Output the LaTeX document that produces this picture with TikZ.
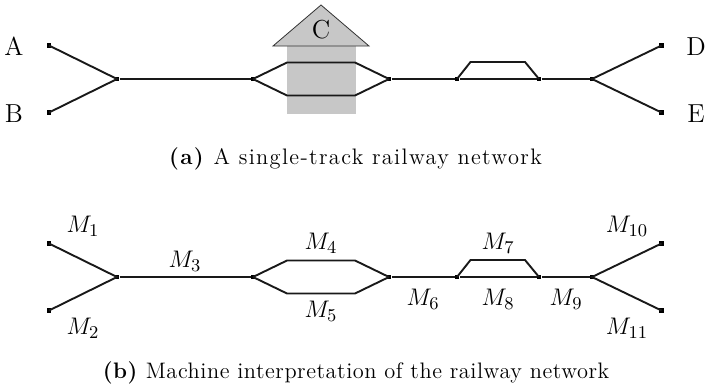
\documentclass[tikz,border=0pt]{standalone}
\usepackage{amsmath, amssymb}
\usepackage{fontspec}
\usetikzlibrary{calc}
\definecolor{station}{gray}{0.78}
\newfontfamily\capafont{Latin Modern Roman}[LetterSpace=6]
\newfontfamily\capbfont{Latin Modern Roman}[LetterSpace=2.4]
\tikzset{
  >=latex,
  track/.style={draw=black!90, line width=0.95pt},
  joint/.style={fill=black, inner sep=0pt, minimum size=2.1pt, rectangle},
  lab/.style={font=\fontsize{13}{15}\selectfont, inner sep=0pt},
  mlab/.style={font=\fontsize{13}{15}\selectfont, inner sep=0pt},
  captext/.style={font=\fontsize{11.2}{13}\selectfont, inner sep=0pt},
  area/.style={fill=station},
}
\begin{document}
\begin{tikzpicture}[x=0.5pt,y=-0.5pt]
\useasboundingbox (0,0) rectangle (705,391);
% station area, behind the tracks
\fill[area] (287,46) rectangle (356,114);
\filldraw[area, draw=black!80, line width=0.4pt] (273,46) -- (321,5) -- (369,46) -- cycle;
% both networks share one layout
\foreach \n/\y in {t/79,b/277}{
  \node[joint] (\n a) at (49,\y-33.5) {};
  \node[joint] (\n b) at (49,\y+33.5) {};
  \node[joint] (\n j1) at (117,\y) {};
  \node[joint] (\n j2) at (253,\y) {};
  \node[joint] (\n j3) at (389,\y) {};
  \node[joint] (\n j4) at (457,\y) {};
  \node[joint] (\n j5) at (539,\y) {};
  \node[joint] (\n j6) at (592,\y) {};
  \node[joint] (\n d) at (661.5,\y-33.5) {};
  \node[joint] (\n e) at (661.5,\y+33.5) {};
  \draw[track] (\n a.center) -- (\n j1.center) -- (\n b.center);
  \draw[track] (\n j1) -- (\n j2);
  \draw[track] (\n j2.center) -- ++(34,-16.5) -- ++(68,0) -- (\n j3.center);
  \draw[track] (\n j2.center) -- ++(34,16.5) -- ++(68,0) -- (\n j3.center);
  \draw[track] (\n j3) -- (\n j4) -- (\n j5) -- (\n j6);
  \draw[track] (\n j4.center) -- ++(13.5,-17) -- ++(54.5,0) -- (\n j5.center);
  \draw[track] (\n d.center) -- (\n j6.center) -- (\n e.center);
}
% network labels
\node[lab] (la) at (14,46) {A};
\node[lab] (lb) at (14,113.5) {B};
\node[lab] (lc) at (321,30) {C};
\node[lab] (ld) at (696,47) {D};
\node[lab] (le) at (696,114) {E};
\node[captext] (capa) at (355.5,159) {\capafont\textbf{(a)} A single-track railway network};
% machine labels
\node[mlab] (m1) at (83,226) {$M_1$};
\node[mlab] (m2) at (83,328) {$M_2$};
\node[mlab] (m3) at (185,261) {$M_3$};
\node[mlab] (m4) at (321,243) {$M_4$};
\node[mlab] (m5) at (321,311) {$M_5$};
\node[mlab] (m6) at (423,299) {$M_6$};
\node[mlab] (m7) at (498,243) {$M_7$};
\node[mlab] (m8) at (498,299) {$M_8$};
\node[mlab] (m9) at (566,299) {$M_9$};
\node[mlab] (m10) at (627,226) {$M_{10}$};
\node[mlab] (m11) at (627,328) {$M_{11}$};
\node[captext] (capb) at (356,373) {\capbfont\textbf{(b)} Machine interpretation of the railway network};
\end{tikzpicture}
\end{document}
